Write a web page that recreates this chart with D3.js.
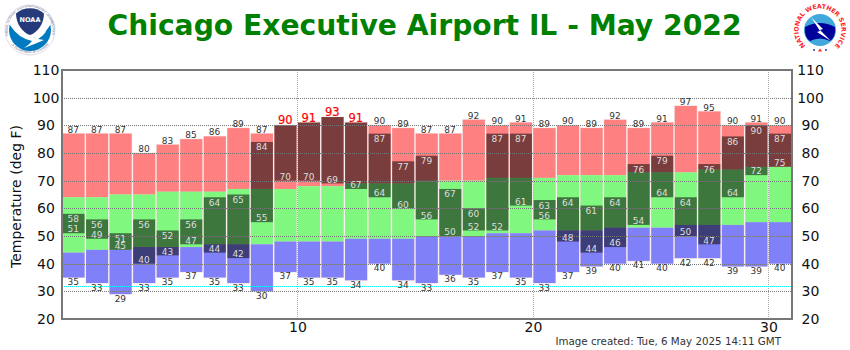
<!DOCTYPE html>
<html>
<head>
<meta charset="utf-8">
<script src="https://cdn.jsdelivr.net/npm/d3@7"></script>
<style>
  html, body { margin: 0; padding: 0; background: #fff; }
  svg { display: block; font-family: "DejaVu Sans", sans-serif; }
</style>
</head>
<body>
<div id="graph"></div>
<script>
let w = 850;
let h = 350;

let days = d3.range(1, 32);
let recordHigh = [87,87,87,80,83,85,86,89,87,90,91,93,91,90,89,87,87,92,90,91,89,90,89,92,89,91,97,95,90,91,90];
let normalHigh = [64,64,65,65,66,66,66,67,67,67,68,68,69,69,69,70,70,70,71,71,71,72,72,72,73,73,73,74,74,75,75];
let normalLow = [44,45,45,46,46,46,47,47,47,48,48,48,49,49,49,50,50,50,51,51,52,52,52,53,53,53,54,54,54,55,55];
let recordLow = [35,33,29,33,35,37,35,33,30,37,35,35,34,40,34,33,36,35,37,35,33,37,39,40,41,40,42,42,39,39,40];
let obsHigh = [58,56,51,56,52,56,64,65,84,90,91,93,91,87,77,79,67,60,87,87,63,64,61,64,76,79,64,76,86,90,87];
let obsLow = [51,49,45,40,43,47,44,42,55,70,70,69,67,64,60,56,50,52,52,61,56,48,44,46,54,64,50,47,64,72,75];
let yTicks = [20,30,40,50,60,70,80,90,100,110];
let xTicks = [10,20,30];
let freezing = 32;

let plotLeft = 62, plotRight = 792, plotTop = 70, plotBottom = 319;

let xScale = d3.scaleLinear().domain([0, 31]).range([plotLeft, plotRight]);
let yScale = d3.scaleLinear().domain([20, 110]).range([plotBottom, plotTop]);

let viz = d3.select("#graph").append("svg").attr("width", w).attr("height", h);

// title and other text
viz.append("text").attr("x", 424.5).attr("y", 35).attr("text-anchor", "middle")
  .attr("font-size", 28.2).attr("font-weight", "bold").attr("fill", "#008000")
  .text("Chicago Executive Airport IL - May 2022");
viz.append("text").attr("transform", "translate(20.5,196.5) rotate(-90)").attr("text-anchor", "middle")
  .attr("font-size", 14).attr("fill", "#111").text("Temperature (deg F)");
viz.append("text").attr("x", 781).attr("y", 345).attr("text-anchor", "end")
  .attr("font-size", 10.3).attr("fill", "#333").text("Image created: Tue, 6 May 2025 14:11 GMT");

// one band of a bar per call
function band(cls, lo, hi, color){
  viz.append("g").attr("class", cls).selectAll("rect").data(days).enter().append("rect")
    .attr("x", function(d){ return xScale(d - 1) + 0.5; })
    .attr("width", xScale(1) - xScale(0) - 1.5)
    .attr("y", function(d, i){ return yScale(hi[i]); })
    .attr("height", function(d, i){ return yScale(lo[i]) - yScale(hi[i]); })
    .attr("fill", color);
}

// white-ish outline round the whole bar
viz.append("g").selectAll("rect").data(days).enter().append("rect")
  .attr("x", function(d){ return xScale(d - 1); })
  .attr("width", xScale(1) - xScale(0) - 0.5)
  .attr("y", function(d, i){ return yScale(recordHigh[i]) - 0.5; })
  .attr("height", function(d, i){ return yScale(recordLow[i]) - yScale(recordHigh[i]) + 1; })
  .attr("fill", "#f4dcdc");

band("rec-high", normalHigh, recordHigh, "#ff8080");
band("normal", normalLow, normalHigh, "#80f880");
band("rec-low", recordLow, normalLow, "#8080f8");
viz.append("g").attr("class", "observed").selectAll("rect").data(days).enter().append("rect")
  .attr("x", function(d){ return xScale(d - 1) + 0.5; })
  .attr("width", xScale(1) - xScale(0) - 1.5)
  .attr("y", function(d, i){ return yScale(obsHigh[i]); })
  .attr("height", function(d, i){ return yScale(obsLow[i]) - yScale(obsHigh[i]); })
  .attr("fill", "#000").attr("fill-opacity", 0.52);

// grid on top of the bars
viz.append("g").selectAll("line").data(yTicks.slice(1, -1)).enter().append("line")
  .attr("x1", plotLeft).attr("x2", plotRight)
  .attr("y1", function(d){ return Math.round(yScale(d)) + 0.5; })
  .attr("y2", function(d){ return Math.round(yScale(d)) + 0.5; })
  .attr("stroke", "#777").attr("stroke-dasharray", "1,1").attr("stroke-width", 1);
viz.append("g").selectAll("line").data(xTicks).enter().append("line")
  .attr("y1", plotTop).attr("y2", plotBottom)
  .attr("x1", function(d){ return Math.round(xScale(d)) + 0.5; })
  .attr("x2", function(d){ return Math.round(xScale(d)) + 0.5; })
  .attr("stroke", "#aaa").attr("stroke-dasharray", "1,1").attr("stroke-width", 1);
viz.append("line").attr("x1", plotLeft).attr("x2", plotRight)
  .attr("y1", Math.round(yScale(freezing)) + 0.5).attr("y2", Math.round(yScale(freezing)) + 0.5)
  .attr("stroke", "#00ffff").attr("stroke-dasharray", "1,1").attr("stroke-width", 1);

// frame
viz.append("rect").attr("x", plotLeft).attr("y", plotTop).attr("width", plotRight - plotLeft).attr("height", plotBottom - plotTop)
  .attr("fill", "none").attr("stroke", "#777").attr("stroke-width", 2);

// axes, the y labels sit centred in their margins
let yAxisL = d3.axisLeft(yScale).tickValues(yTicks).tickSize(0).tickPadding(16);
let yAxisR = d3.axisRight(yScale).tickValues(yTicks).tickSize(0).tickPadding(18.5);
let xAxis = d3.axisBottom(xScale).tickValues(xTicks).tickSize(0).tickPadding(3);
let axisL = viz.append("g").attr("transform", "translate(" + plotLeft + ",0)").call(yAxisL);
let axisR = viz.append("g").attr("transform", "translate(" + plotRight + ",0)").call(yAxisR);
let axisX = viz.append("g").attr("transform", "translate(0," + plotBottom + ")").call(xAxis);
[axisL, axisR, axisX].forEach(function(a){
  a.select(".domain").remove();
  a.selectAll("text").attr("font-size", 14).attr("font-family", "DejaVu Sans").attr("fill", "#111").attr("text-anchor", "middle");
});

// record high, red and larger when the day tied it
viz.append("g").selectAll("text").data(days).enter().append("text")
  .attr("x", function(d){ return xScale(d - 0.5) - 0.5; })
  .attr("y", function(d, i){ return yScale(recordHigh[i]) - 1; })
  .attr("text-anchor", "middle")
  .attr("font-size", function(d, i){ return obsHigh[i] >= recordHigh[i] ? 11.5 : 9; })
  .attr("fill", function(d, i){ return obsHigh[i] >= recordHigh[i] ? "#ff0000" : "#333"; })
  .attr("stroke", function(d, i){ return obsHigh[i] >= recordHigh[i] ? "#ff0000" : "none"; })
  .attr("stroke-width", 0.2)
  .text(function(d, i){ return recordHigh[i]; });

function labels(vals, dy, color){
  viz.append("g").selectAll("text").data(days).enter().append("text")
    .attr("x", function(d){ return xScale(d - 0.5) - 0.5; })
    .attr("y", function(d, i){ return yScale(vals[i]) + dy; })
    .attr("text-anchor", "middle").attr("font-size", 9).attr("fill", color)
    .text(function(d, i){ return vals[i]; });
}
labels(recordLow, 7.5, "#333");
labels(obsLow, -0.8, "#dedede");
viz.append("g").selectAll("text").data(days).enter().append("text")
  .attr("x", function(d){ return xScale(d - 0.5) - 0.5; })
  .attr("y", function(d, i){ return yScale(obsHigh[i]) + 8.5; })
  .attr("text-anchor", "middle").attr("font-size", 9).attr("fill", "#dedede")
  .text(function(d, i){ return obsHigh[i] >= recordHigh[i] ? "" : obsHigh[i]; });

// NOAA logo
let noaa = viz.append("g").attr("transform", "translate(30,30)");
noaa.append("circle").attr("r", 25).attr("fill", "#fff").attr("stroke", "#b8bccd").attr("stroke-width", 0.5);
noaa.append("path").attr("id", "noaaRing").attr("fill", "none")
  .attr("d", "M-21.5,6 A22.3,22.3 0 1 1 21.5,6");
noaa.append("text").attr("font-size", 3.1).attr("fill", "#5a6590")
  .append("textPath").attr("href", "#noaaRing").attr("startOffset", "50%").attr("text-anchor", "middle")
  .text("NATIONAL OCEANIC AND ATMOSPHERIC ADMINISTRATION");
noaa.append("path").attr("id", "noaaRing2").attr("fill", "none")
  .attr("d", "M-19,14 A24,24 0 0 0 19,14");
noaa.append("text").attr("font-size", 2.8).attr("fill", "#5a6590")
  .append("textPath").attr("href", "#noaaRing2").attr("startOffset", "50%").attr("text-anchor", "middle")
  .text("U.S. DEPARTMENT OF COMMERCE");
noaa.append("circle").attr("r", 21).attr("fill", "#0079c1");
noaa.append("path").attr("d", "M-21,-6 A21.5,21.5 0 0 1 21,-6 Q14,6 0,9 Q-14,3 -21,-6 Z").attr("fill", "#fff");
noaa.append("path").attr("d", "M-14,-16.5 A21,21 0 0 1 14,-16.5 C14,-6 7,3 0,5 C-7,3 -14,-6 -14,-16.5 Z").attr("fill", "#243a7a");
noaa.append("path").attr("d", "M-20,-5 Q-8,7 4,8 Q14,2 19,-7 Q17,4 8,9 L14,10 Q5,14 -6,18 Q0,14 2,11 Q-12,8 -20,-5 Z").attr("fill", "#fff");
noaa.append("text").attr("x", 0).attr("y", -8).attr("text-anchor", "middle").attr("font-size", 6.5)
  .attr("font-weight", "bold").attr("fill", "#fff").text("NOAA");

// NWS logo
let nws = viz.append("g").attr("transform", "translate(820,30)");
nws.append("path").attr("id", "nwsRing").attr("fill", "none")
  .attr("d", "M-11,18.5 A21.5,21.5 0 1 1 11,18.5");
nws.append("text").attr("font-size", 6.2).attr("font-weight", "bold").attr("fill", "#ff2020")
  .append("textPath").attr("href", "#nwsRing").attr("startOffset", "50%").attr("text-anchor", "middle")
  .text("NATIONAL WEATHER SERVICE");
nws.append("circle").attr("r", 16).attr("fill", "#40a8dc");
nws.append("path").attr("d", "M-15,-3 Q0,-11 15,-3 Q16,7 10,11 Q0,6 -10,11 Q-16,7 -15,-3 Z").attr("fill", "#00009a");
nws.append("path").attr("d", "M-9,-13 L3,-1 L0,0 L11,11 L-3,2 L0,1 Z").attr("fill", "#fff");
nws.append("path").attr("d", "M-2,21.5 L0,18.5 L2,21.5 Z").attr("fill", "#ff2020");
nws.append("circle").attr("cx", -6).attr("cy", 20).attr("r", 1).attr("fill", "#2040c0");
nws.append("circle").attr("cx", 6).attr("cy", 20).attr("r", 1).attr("fill", "#2040c0");
</script>
</body>
</html>
